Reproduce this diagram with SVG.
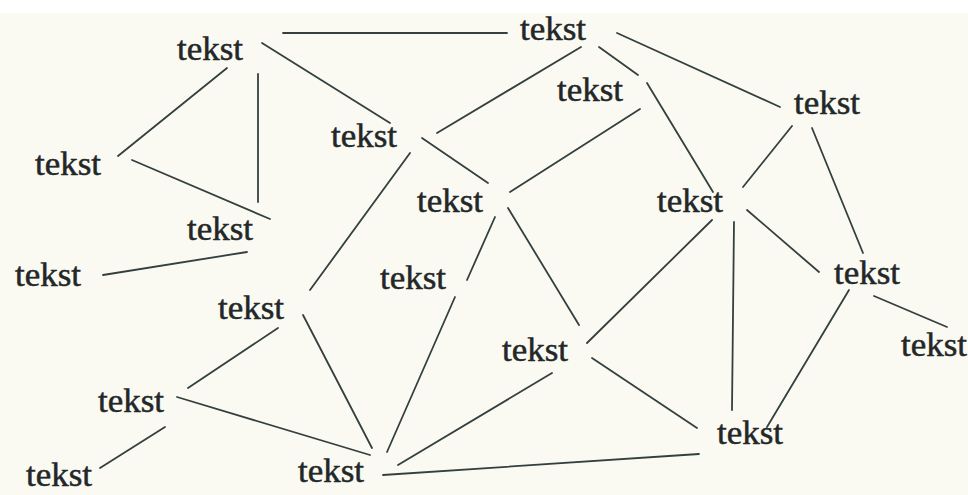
<svg xmlns="http://www.w3.org/2000/svg" width="968" height="495" viewBox="0 0 968 495">
<style>
.bg{fill:#fafaf3}
.lbl{font-family:"Liberation Serif","Times New Roman",serif;font-size:33px;fill:#232727;stroke:#232727;stroke-width:0.5}
.edge{stroke:#34403f;stroke-width:1.8;fill:none;stroke-linecap:round}
</style>
<rect x="0" y="0" width="968" height="495" fill="#ffffff"/>
<rect class="bg" x="0" y="13" width="968" height="482"/>
<g id="connectors">
<line class="edge" x1="283" y1="33" x2="507" y2="33"/>
<line class="edge" x1="262" y1="43" x2="390" y2="123"/>
<line class="edge" x1="227" y1="68" x2="118" y2="156"/>
<line class="edge" x1="258" y1="74" x2="258" y2="202"/>
<line class="edge" x1="132" y1="160" x2="270" y2="219"/>
<line class="edge" x1="581" y1="47" x2="437" y2="133"/>
<line class="edge" x1="422" y1="138" x2="488" y2="183"/>
<line class="edge" x1="617" y1="33" x2="780" y2="107"/>
<line class="edge" x1="599" y1="47" x2="638" y2="75"/>
<line class="edge" x1="647" y1="83" x2="713" y2="192"/>
<line class="edge" x1="640" y1="109" x2="510" y2="192"/>
<line class="edge" x1="792" y1="126" x2="743" y2="187"/>
<line class="edge" x1="812" y1="128" x2="863" y2="253"/>
<line class="edge" x1="712" y1="220" x2="587" y2="343"/>
<line class="edge" x1="734" y1="222" x2="732" y2="410"/>
<line class="edge" x1="747" y1="210" x2="819" y2="272"/>
<line class="edge" x1="495" y1="217" x2="467" y2="280"/>
<line class="edge" x1="455" y1="297" x2="387" y2="452"/>
<line class="edge" x1="508" y1="208" x2="579" y2="325"/>
<line class="edge" x1="410" y1="153" x2="310" y2="290"/>
<line class="edge" x1="103" y1="275" x2="247" y2="252"/>
<line class="edge" x1="278" y1="328" x2="188" y2="388"/>
<line class="edge" x1="303" y1="315" x2="372" y2="448"/>
<line class="edge" x1="177" y1="397" x2="370" y2="455"/>
<line class="edge" x1="100" y1="468" x2="165" y2="427"/>
<line class="edge" x1="398" y1="465" x2="552" y2="373"/>
<line class="edge" x1="383" y1="475" x2="699" y2="454"/>
<line class="edge" x1="592" y1="358" x2="697" y2="428"/>
<line class="edge" x1="849" y1="290" x2="767" y2="427"/>
<line class="edge" x1="874" y1="296" x2="947" y2="327"/>
</g>
<g id="n1"><text class="lbl" x="177" y="60" textLength="66" lengthAdjust="spacingAndGlyphs">tekst</text></g>
<g id="n2"><text class="lbl" x="520" y="40" textLength="66" lengthAdjust="spacingAndGlyphs">tekst</text></g>
<g id="n3"><text class="lbl" x="557" y="101" textLength="66" lengthAdjust="spacingAndGlyphs">tekst</text></g>
<g id="n4"><text class="lbl" x="794" y="114" textLength="66" lengthAdjust="spacingAndGlyphs">tekst</text></g>
<g id="n5"><text class="lbl" x="331" y="147" textLength="66" lengthAdjust="spacingAndGlyphs">tekst</text></g>
<g id="n6"><text class="lbl" x="35" y="175" textLength="66" lengthAdjust="spacingAndGlyphs">tekst</text></g>
<g id="n7"><text class="lbl" x="417" y="212" textLength="66" lengthAdjust="spacingAndGlyphs">tekst</text></g>
<g id="n8"><text class="lbl" x="657" y="212" textLength="66" lengthAdjust="spacingAndGlyphs">tekst</text></g>
<g id="n9"><text class="lbl" x="187" y="240" textLength="66" lengthAdjust="spacingAndGlyphs">tekst</text></g>
<g id="n10"><text class="lbl" x="15" y="286" textLength="66" lengthAdjust="spacingAndGlyphs">tekst</text></g>
<g id="n11"><text class="lbl" x="380" y="289" textLength="66" lengthAdjust="spacingAndGlyphs">tekst</text></g>
<g id="n12"><text class="lbl" x="218" y="319" textLength="66" lengthAdjust="spacingAndGlyphs">tekst</text></g>
<g id="n13"><text class="lbl" x="834" y="284" textLength="66" lengthAdjust="spacingAndGlyphs">tekst</text></g>
<g id="n14"><text class="lbl" x="901" y="356" textLength="66" lengthAdjust="spacingAndGlyphs">tekst</text></g>
<g id="n15"><text class="lbl" x="502" y="361" textLength="66" lengthAdjust="spacingAndGlyphs">tekst</text></g>
<g id="n16"><text class="lbl" x="98" y="412" textLength="66" lengthAdjust="spacingAndGlyphs">tekst</text></g>
<g id="n17"><text class="lbl" x="717" y="444" textLength="66" lengthAdjust="spacingAndGlyphs">tekst</text></g>
<g id="n18"><text class="lbl" x="298" y="482" textLength="66" lengthAdjust="spacingAndGlyphs">tekst</text></g>
<g id="n19"><text class="lbl" x="26" y="486" textLength="66" lengthAdjust="spacingAndGlyphs">tekst</text></g>
</svg>
